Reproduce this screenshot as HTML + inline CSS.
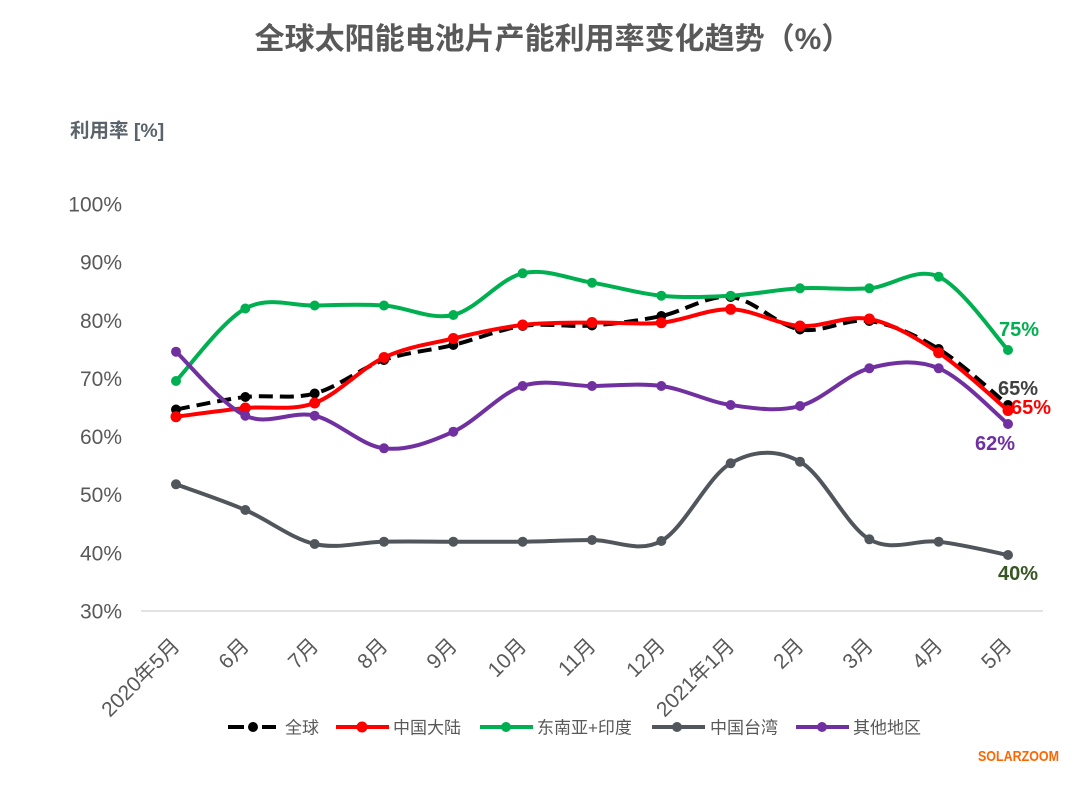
<!DOCTYPE html>
<html>
<head>
<meta charset="utf-8">
<style>
html,body{margin:0;padding:0;background:#fff;}
svg{display:block;}
text{font-family:"Liberation Sans","Noto Sans CJK SC",sans-serif;}
</style>
</head>
<body>
<svg width="1080" height="791" viewBox="0 0 1080 791" xmlns="http://www.w3.org/2000/svg">
<rect width="1080" height="791" fill="#fff"/>

<!-- Title -->
<text x="553" y="49" text-anchor="middle" font-size="30" font-weight="bold" fill="#595959">全球太阳能电池片产能利用率变化趋势（%）</text>

<!-- Y axis title -->
<text x="70" y="137" font-size="19.5" font-weight="bold" fill="#5a636b">利用率 [%]</text>

<!-- Y tick labels -->
<g font-size="21" fill="#595959" text-anchor="end">
<text x="122" y="211.5">100%</text>
<text x="122" y="269.5">90%</text>
<text x="122" y="328">80%</text>
<text x="122" y="386">70%</text>
<text x="122" y="444">60%</text>
<text x="122" y="502">50%</text>
<text x="122" y="560.5">40%</text>
<text x="122" y="618.5">30%</text>
</g>

<!-- X axis line -->
<line x1="141" y1="611" x2="1043" y2="611" stroke="#d9d9d9" stroke-width="1.5"/>

<!-- X tick labels -->
<g font-size="21" fill="#595959" text-anchor="end">
<text transform="translate(181,647) rotate(-45)">2020年5月</text>
<text transform="translate(250.3,647) rotate(-45)">6月</text>
<text transform="translate(319.7,647) rotate(-45)">7月</text>
<text transform="translate(389,647) rotate(-45)">8月</text>
<text transform="translate(458.3,647) rotate(-45)">9月</text>
<text transform="translate(527.7,647) rotate(-45)">10月</text>
<text transform="translate(597,647) rotate(-45)">11月</text>
<text transform="translate(666.3,647) rotate(-45)">12月</text>
<text transform="translate(735.7,647) rotate(-45)">2021年1月</text>
<text transform="translate(805,647) rotate(-45)">2月</text>
<text transform="translate(874.3,647) rotate(-45)">3月</text>
<text transform="translate(943.7,647) rotate(-45)">4月</text>
<text transform="translate(1013,647) rotate(-45)">5月</text>
</g>

<!-- Global (black dashed) -->
<path fill="none" stroke="#000" stroke-width="4" stroke-dasharray="14 7"
d="M176,409.5 C187.56,407.42 222.22,399.67 245.33,397 C268.44,394.33 291.56,399.67 314.67,393.5 C337.78,387.33 360.89,368.08 384,360 C407.11,351.92 430.22,350.67 453.33,345 C476.44,339.33 499.56,329.25 522.67,326 C545.78,322.75 568.89,327.17 592,325.5 C615.11,323.83 638.22,320.75 661.33,316 C684.44,311.25 707.56,294.75 730.67,297 C753.78,299.25 776.89,325.5 800,329.5 C823.11,333.5 846.22,317.75 869.33,321 C892.44,324.25 915.56,335 938.67,349 C961.78,363 996.44,395.67 1008,405"/>
<g fill="#000">
<circle cx="176" cy="409.5" r="5"/><circle cx="245.33" cy="397" r="5"/><circle cx="314.67" cy="393.5" r="5"/><circle cx="384" cy="360" r="5"/><circle cx="453.33" cy="345" r="5"/><circle cx="522.67" cy="326" r="5"/><circle cx="592" cy="325.5" r="5"/><circle cx="661.33" cy="316" r="5"/><circle cx="730.67" cy="297" r="5"/><circle cx="800" cy="329.5" r="5"/><circle cx="869.33" cy="321" r="5"/><circle cx="938.67" cy="349" r="5"/><circle cx="1008" cy="405" r="5"/>
</g>

<!-- China mainland (red) -->
<path fill="none" stroke="#ff0000" stroke-width="4"
d="M176,416.7 C187.56,415.25 222.22,410.28 245.33,408 C268.44,405.72 291.56,411.42 314.67,403 C337.78,394.58 360.89,368.25 384,357.5 C407.11,346.75 430.22,343.92 453.33,338.5 C476.44,333.08 499.56,327.67 522.67,325 C545.78,322.33 568.89,322.88 592,322.5 C615.11,322.12 638.22,324.9 661.33,322.7 C684.44,320.5 707.56,308.75 730.67,309.3 C753.78,309.85 776.89,324.38 800,326 C823.11,327.62 846.22,314.55 869.33,319 C892.44,323.45 915.56,337.45 938.67,352.7 C961.78,367.95 996.44,400.87 1008,410.5"/>
<g fill="#ff0000">
<circle cx="176" cy="416.7" r="5.5"/><circle cx="245.33" cy="408" r="5.5"/><circle cx="314.67" cy="403" r="5.5"/><circle cx="384" cy="357.5" r="5.5"/><circle cx="453.33" cy="338.5" r="5.5"/><circle cx="522.67" cy="325" r="5.5"/><circle cx="592" cy="322.5" r="5.5"/><circle cx="661.33" cy="322.7" r="5.5"/><circle cx="730.67" cy="309.3" r="5.5"/><circle cx="800" cy="326" r="5.5"/><circle cx="869.33" cy="319" r="5.5"/><circle cx="938.67" cy="352.7" r="5.5"/><circle cx="1008" cy="410.5" r="5.5"/>
</g>

<!-- SE Asia + India (green) -->
<path fill="none" stroke="#00b050" stroke-width="4"
d="M176,381 C187.56,368.92 222.22,321.08 245.33,308.5 C268.44,295.92 291.56,306 314.67,305.5 C337.78,305 360.89,303.92 384,305.5 C407.11,307.08 430.22,320.37 453.33,315 C476.44,309.63 499.56,278.68 522.67,273.3 C545.78,267.92 568.89,278.97 592,282.7 C615.11,286.43 638.22,293.53 661.33,295.7 C684.44,297.87 707.56,296.93 730.67,295.7 C753.78,294.47 776.89,289.53 800,288.3 C823.11,287.07 846.22,290.23 869.33,288.3 C892.44,286.37 915.56,266.42 938.67,276.7 C961.78,286.98 996.44,337.78 1008,350"/>
<g fill="#00b050">
<circle cx="176" cy="381" r="5"/><circle cx="245.33" cy="308.5" r="5"/><circle cx="314.67" cy="305.5" r="5"/><circle cx="384" cy="305.5" r="5"/><circle cx="453.33" cy="315" r="5"/><circle cx="522.67" cy="273.3" r="5"/><circle cx="592" cy="282.7" r="5"/><circle cx="661.33" cy="295.7" r="5"/><circle cx="730.67" cy="295.7" r="5"/><circle cx="800" cy="288.3" r="5"/><circle cx="869.33" cy="288.3" r="5"/><circle cx="938.67" cy="276.7" r="5"/><circle cx="1008" cy="350" r="5"/>
</g>

<!-- Taiwan (gray) -->
<path fill="none" stroke="#50565c" stroke-width="4"
d="M176,484.3 C187.56,488.58 222.22,500.05 245.33,510 C268.44,519.95 291.56,538.72 314.67,544 C337.78,549.28 360.89,542.08 384,541.7 C407.11,541.32 430.22,541.7 453.33,541.7 C476.44,541.7 499.56,541.98 522.67,541.7 C545.78,541.42 568.89,540.12 592,540 C615.11,539.88 638.22,553.78 661.33,541 C684.44,528.22 707.56,476.52 730.67,463.3 C753.78,450.08 776.89,449.03 800,461.7 C823.11,474.37 846.22,525.97 869.33,539.3 C892.44,552.63 915.56,539.08 938.67,541.7 C961.78,544.32 996.44,552.78 1008,555"/>
<g fill="#50565c">
<circle cx="176" cy="484.3" r="5"/><circle cx="245.33" cy="510" r="5"/><circle cx="314.67" cy="544" r="5"/><circle cx="384" cy="541.7" r="5"/><circle cx="453.33" cy="541.7" r="5"/><circle cx="522.67" cy="541.7" r="5"/><circle cx="592" cy="540" r="5"/><circle cx="661.33" cy="541" r="5"/><circle cx="730.67" cy="463.3" r="5"/><circle cx="800" cy="461.7" r="5"/><circle cx="869.33" cy="539.3" r="5"/><circle cx="938.67" cy="541.7" r="5"/><circle cx="1008" cy="555" r="5"/>
</g>

<!-- Other regions (purple) -->
<path fill="none" stroke="#7030a0" stroke-width="4"
d="M176,351.7 C187.56,362.37 222.22,405.03 245.33,415.7 C268.44,426.37 291.56,410.27 314.67,415.7 C337.78,421.13 360.89,445.63 384,448.3 C407.11,450.97 430.22,442.08 453.33,431.7 C476.44,421.32 499.56,393.62 522.67,386 C545.78,378.38 568.89,386 592,386 C615.11,386 638.22,382.83 661.33,386 C684.44,389.17 707.56,401.67 730.67,405 C753.78,408.33 776.89,412.12 800,406 C823.11,399.88 846.22,374.58 869.33,368.3 C892.44,362.02 915.56,359.02 938.67,368.3 C961.78,377.58 996.44,414.72 1008,424"/>
<g fill="#7030a0">
<circle cx="176" cy="351.7" r="5"/><circle cx="245.33" cy="415.7" r="5"/><circle cx="314.67" cy="415.7" r="5"/><circle cx="384" cy="448.3" r="5"/><circle cx="453.33" cy="431.7" r="5"/><circle cx="522.67" cy="386" r="5"/><circle cx="592" cy="386" r="5"/><circle cx="661.33" cy="386" r="5"/><circle cx="730.67" cy="405" r="5"/><circle cx="800" cy="406" r="5"/><circle cx="869.33" cy="368.3" r="5"/><circle cx="938.67" cy="368.3" r="5"/><circle cx="1008" cy="424" r="5"/>
</g>

<!-- Data labels -->
<g font-size="20" font-weight="bold">
<text x="999" y="336" fill="#00b050">75%</text>
<text x="998" y="395" fill="#404040">65%</text>
<text x="1011" y="414" fill="#ff0000">65%</text>
<text x="975" y="450" fill="#7030a0">62%</text>
<text x="998" y="580" fill="#375623">40%</text>
</g>

<!-- Legend -->
<g stroke-width="4">
<line x1="228" y1="727" x2="276" y2="727" stroke="#000" stroke-dasharray="16 18"/>
<circle cx="253" cy="727" r="5" fill="#000" stroke="none"/>
<line x1="336" y1="727" x2="389" y2="727" stroke="#ff0000"/>
<circle cx="362" cy="727" r="5.5" fill="#ff0000" stroke="none"/>
<line x1="480" y1="727" x2="533" y2="727" stroke="#00b050"/>
<circle cx="506" cy="727" r="5" fill="#00b050" stroke="none"/>
<line x1="652" y1="727" x2="705" y2="727" stroke="#50565c"/>
<circle cx="677" cy="727" r="5" fill="#50565c" stroke="none"/>
<line x1="796" y1="727" x2="849" y2="727" stroke="#7030a0"/>
<circle cx="822" cy="727" r="5" fill="#7030a0" stroke="none"/>
</g>
<g font-size="17" fill="#595959">
<text x="285" y="733.5">全球</text>
<text x="393" y="733.5">中国大陆</text>
<text x="537" y="733.5">东南亚+印度</text>
<text x="710" y="733.5">中国台湾</text>
<text x="853" y="733.5">其他地区</text>
</g>

<!-- Watermark -->
<text x="978" y="761" font-family="Liberation Mono, monospace" font-size="15" font-weight="bold" fill="#ff6600" textLength="81" lengthAdjust="spacingAndGlyphs">SOLARZOOM</text>
</svg>
</body>
</html>
